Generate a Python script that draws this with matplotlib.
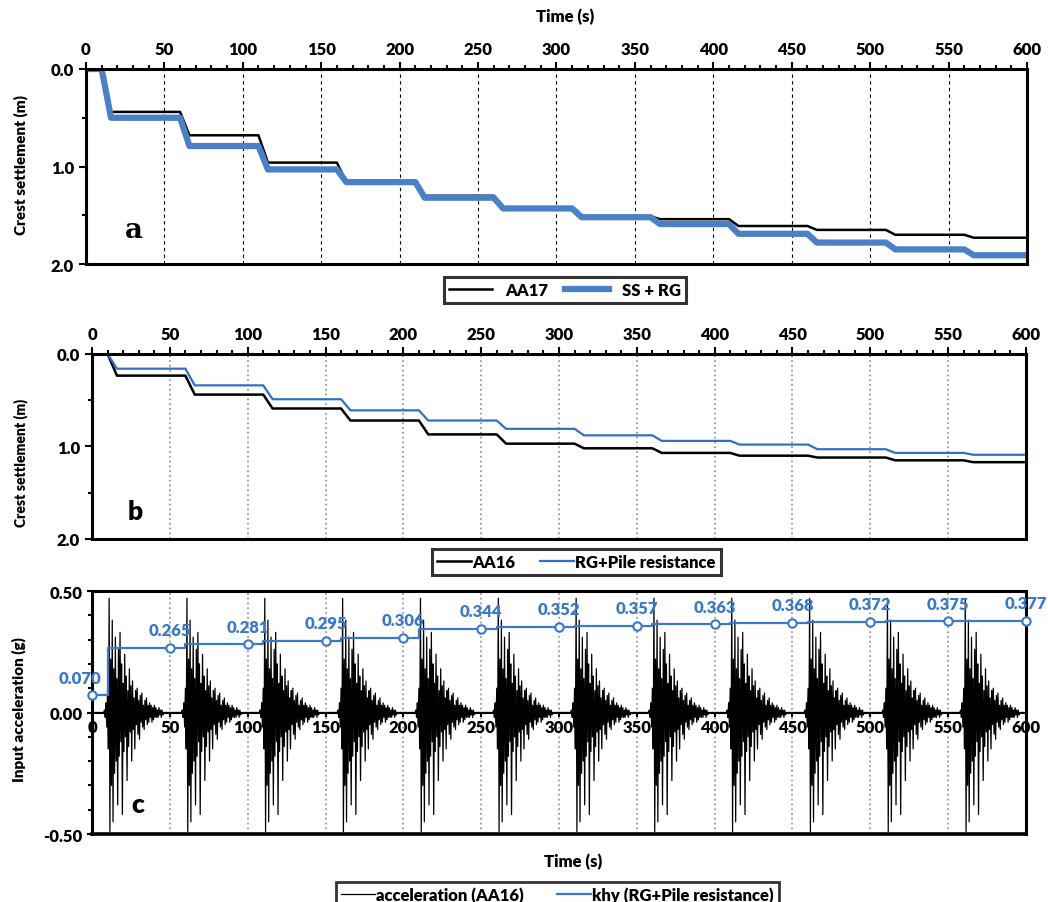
import numpy as np
import matplotlib
matplotlib.use("Agg")
import matplotlib.pyplot as plt
from matplotlib.ticker import MultipleLocator

plt.rcParams['font.family'] = ['Lato', 'DejaVu Sans']
plt.rcParams['font.weight'] = 'heavy'

# === Data ===
event_t = [10, 60, 110, 160, 210, 260, 310, 360, 410, 460, 510, 560]

# panel a: crest settlement (m) after each shaking event
aa17 = [0.44, 0.68, 0.96, 1.16, 1.30, 1.42, 1.51, 1.54, 1.61, 1.65, 1.70, 1.73]
ss_rg = [0.50, 0.79, 1.03, 1.16, 1.32, 1.43, 1.52, 1.59, 1.69, 1.78, 1.85, 1.91]

# panel b
aa16 = [0.235, 0.44, 0.59, 0.72, 0.87, 0.97, 1.02, 1.07, 1.10, 1.12, 1.15, 1.17]
rg_pile = [0.16, 0.34, 0.49, 0.61, 0.72, 0.81, 0.88, 0.94, 0.98, 1.03, 1.07, 1.09]

# panel c: khy values labelled at t = 0, 50, ... 600
khy_t = [0, 50, 100, 150, 200, 250, 300, 350, 400, 450, 500, 550, 600]
khy = [0.070, 0.265, 0.281, 0.295, 0.306, 0.344, 0.352, 0.357, 0.363, 0.368, 0.372, 0.375, 0.377]

# one input-motion burst (g), 0.5 s apart, repeated at each event
burst = [0.01, -0.02, 0.04, -0.06, 0.10, -0.15,
         0.47, -0.49, 0.22, -0.30, 0.38, -0.45, 0.18, -0.25, 0.31, -0.20,
         0.14, -0.38, 0.26, -0.18, 0.33, -0.12, 0.20, -0.42, 0.12, -0.16,
         0.24, -0.10, 0.15, -0.28, 0.09, -0.14, 0.18, -0.08, 0.11, -0.20,
         0.13, -0.07, 0.06, -0.15, 0.09, -0.05, 0.10, -0.09, 0.05, -0.11,
         0.07, -0.04, 0.08, -0.06, 0.03, -0.07, 0.05, -0.03, 0.06, -0.05,
         0.03, -0.04, 0.04, -0.02, 0.03, -0.04, 0.02, -0.03, 0.03, -0.02,
         0.02, -0.02, 0.01, -0.02, 0.02, -0.01, 0.01, -0.02, 0.01, -0.01]
DT = 0.5
RAMP = 6
BLUE = '#4a80c6'


def step_path(levels, ramp=RAMP):
    xs, ys = [0], [0.0]
    prev = 0.0
    for t0, lv in zip(event_t, levels):
        xs += [t0, t0 + ramp]
        ys += [prev, lv]
        prev = lv
    xs.append(600)
    ys.append(prev)
    return xs, ys


def style_settlement(ax, grid_style):
    ax.set_xlim(0, 600)
    ax.set_ylim(2.0, 0.0)
    ax.xaxis.tick_top()
    ax.xaxis.set_major_locator(MultipleLocator(50))
    ax.xaxis.set_minor_locator(MultipleLocator(10))
    ax.yaxis.set_major_locator(MultipleLocator(1.0))
    ax.yaxis.set_minor_locator(MultipleLocator(0.5))
    ax.yaxis.set_major_formatter(plt.FormatStrFormatter('%.1f'))
    ax.tick_params(which='both', direction='out', width=1.5, labelsize=12)
    ax.tick_params(which='major', length=5)
    ax.tick_params(which='minor', length=3)
    for s in ax.spines.values():
        s.set_linewidth(2.2)
    for x in range(50, 600, 50):
        ax.axvline(x, zorder=0, **grid_style)


fig = plt.figure(figsize=(10.48, 9.03), dpi=100)

# --- panel a ---
ax1 = fig.add_axes([0.082, 0.7065, 0.898, 0.216])
style_settlement(ax1, dict(color='k', lw=0.8, ls=(0, (3, 3))))
x, y = step_path(aa17)
ax1.plot(x, y, color='k', lw=1.8, label='AA17')
x, y = step_path(ss_rg)
ax1.plot(x, y, color=BLUE, lw=4.5, label='SS + RG')
ax1.text(25, 1.72, 'a', fontsize=20, fontweight='bold', family='DejaVu Serif')
fig.text(0.539, 0.981, 'Time (s)', ha='center', va='center', fontsize=12)
fig.text(0.020, 0.817, 'Crest settlement (m)', rotation=90, ha='center', va='center', fontsize=11)
fig.legend(*ax1.get_legend_handles_labels(), loc='center', bbox_to_anchor=(0.539, 0.678),
           ncol=2, fontsize=12, frameon=True, fancybox=False, edgecolor='k',
           handlelength=2.6, columnspacing=1.0, borderpad=0.3).get_frame().set_linewidth(2.2)

# --- panel b ---
ax2 = fig.add_axes([0.0878, 0.402, 0.8912, 0.205])
style_settlement(ax2, dict(color='#9a9a9a', lw=1.3, ls=':'))
x, y = step_path(aa16)
ax2.plot(x, y, color='k', lw=1.8, label='AA16')
x, y = step_path(rg_pile)
ax2.plot(x, y, color='#3370c4', lw=1.6, label='RG+Pile resistance')
ax2.text(23, 1.78, 'b', fontsize=19)
fig.text(0.020, 0.487, 'Crest settlement (m)', rotation=90, ha='center', va='center', fontsize=10)
fig.legend(*ax2.get_legend_handles_labels(), loc='center', bbox_to_anchor=(0.550, 0.3765),
           ncol=2, fontsize=12, frameon=True, fancybox=False, edgecolor='k',
           handlelength=2.0, handletextpad=0.1, columnspacing=1.5,
           borderpad=0.3).get_frame().set_linewidth(2.2)

# --- panel c ---
ax3 = fig.add_axes([0.0878, 0.0753, 0.8912, 0.2691])
t_grid = np.arange(0, 600 + DT, DT)
acc = np.zeros_like(t_grid)
for t0 in event_t:
    i0 = int(round((t0 - 2) / DT))
    acc[i0:i0 + len(burst)] = burst
ax3.plot(t_grid, acc, color='k', lw=0.9, label='acceleration (AA16)')

kx, ky = [0], [khy[0]]
for t0, v_prev, v in zip(event_t, khy[:-1], khy[1:]):
    kx += [t0, t0]
    ky += [v_prev, v]
kx.append(600)
ky.append(khy[-1])
ax3.plot(kx, ky, color='#3a78c8', lw=1.6, label='khy (RG+Pile resistance)')
ax3.plot(khy_t, khy, ls='none', marker='o', ms=6, mfc='white', mec='#3a78c8', mew=1.5,
         clip_on=False, zorder=5)
for tx, v in zip(khy_t[1:], khy[1:]):
    ax3.annotate(f'{v:.3f}', (tx, v), xytext=(0, 7), textcoords='offset points',
                 ha='center', va='bottom', fontsize=12, color='#3a78c8')
ax3.text(-8, 0.14, f'{khy[0]:.3f}', ha='center', va='center', fontsize=12,
         color='#3a78c8')

ax3.set_xlim(0, 600)
ax3.set_ylim(-0.5, 0.5)
ax3.spines['bottom'].set_position(('data', 0))
ax3.axhline(-0.5, color='k', lw=2.6, clip_on=False)
for s in ax3.spines.values():
    s.set_linewidth(2.2)
ax3.spines['bottom'].set_linewidth(1.5)
ax3.xaxis.set_major_locator(MultipleLocator(50))
ax3.yaxis.set_major_locator(MultipleLocator(0.5))
ax3.yaxis.set_minor_locator(MultipleLocator(0.1))
ax3.yaxis.set_major_formatter(plt.FormatStrFormatter('%.2f'))
ax3.tick_params(which='both', direction='out', width=1.5, labelsize=12)
ax3.tick_params(axis='x', length=3, pad=2)
ax3.tick_params(axis='y', which='minor', length=3)
for xg in range(50, 600, 50):
    ax3.axvline(xg, color='#9a9a9a', lw=1.3, ls=':', zorder=0)
ax3.text(25, -0.41, 'c', fontsize=19)
fig.text(0.547, 0.0454, 'Time (s)', ha='center', va='center', fontsize=12)
fig.text(0.018, 0.214, 'Input acceleration (g)', rotation=90, ha='center', va='center', fontsize=11)
fig.legend(*ax3.get_legend_handles_labels(), loc='center', bbox_to_anchor=(0.532, 0.008),
           ncol=2, fontsize=12, frameon=True, fancybox=False, edgecolor='k',
           handlelength=2.0, handletextpad=0.1, columnspacing=2.0,
           borderpad=0.3).get_frame().set_linewidth(2.0)

fig.savefig('out.png', dpi=100)
